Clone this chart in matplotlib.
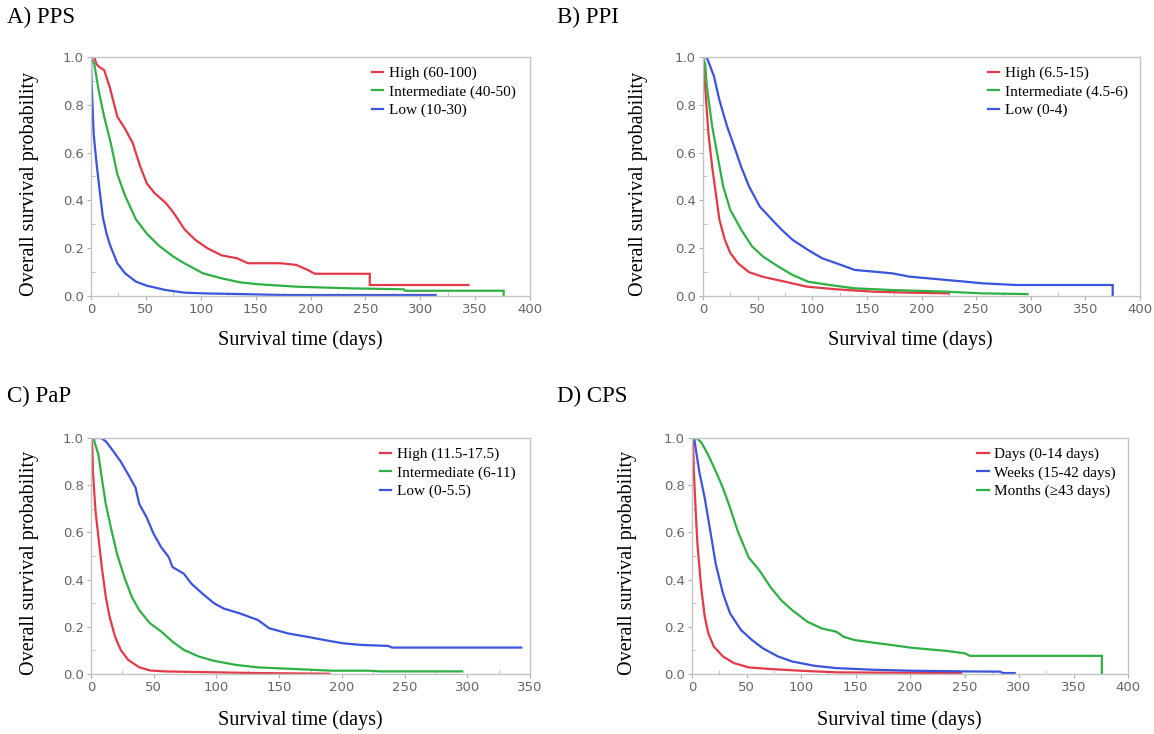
import matplotlib
matplotlib.use("Agg")
import matplotlib.pyplot as plt
from matplotlib.ticker import MultipleLocator

RED = "#e23a48"
GREEN = "#2fb045"
BLUE = "#3a55dc"
SERIF = "Liberation Serif"

# A) PPS
pps_high_t = [0, 3, 5, 7, 12, 17, 24, 31, 38, 45, 51, 58, 68, 75, 85, 95, 106, 119, 133, 143, 173, 187, 197, 204, 254, 254, 344]
pps_high_s = [1.0, 1.0, 0.97, 0.96, 0.945, 0.875, 0.75, 0.70, 0.64, 0.54, 0.47, 0.43, 0.39, 0.35, 0.28, 0.235, 0.20, 0.17, 0.158, 0.137, 0.137, 0.13, 0.11, 0.093, 0.093, 0.046, 0.046]
pps_mid_t = [0, 3, 7, 12, 18, 24, 31, 41, 51, 62, 75, 85, 102, 119, 136, 153, 187, 237, 285, 286, 376, 376]
pps_mid_s = [1.0, 0.97, 0.86, 0.75, 0.64, 0.51, 0.42, 0.32, 0.26, 0.21, 0.165, 0.137, 0.095, 0.074, 0.057, 0.049, 0.039, 0.032, 0.028, 0.022, 0.022, 0.0]
pps_low_t = [0, 0.5, 2.4, 4.7, 7.4, 10.8, 14.2, 17.6, 24, 31, 41, 51, 68, 85, 102, 136, 177, 314]
pps_low_s = [1.0, 0.9, 0.68, 0.57, 0.46, 0.33, 0.26, 0.21, 0.137, 0.095, 0.06, 0.043, 0.025, 0.014, 0.011, 0.008, 0.004, 0.004]

# B) PPI
ppi_high_t = [0, 1, 1.7, 5, 8.4, 11.7, 15, 20, 25, 32, 42, 55, 75, 95, 122, 156, 189, 225]
ppi_high_s = [1.0, 0.97, 0.89, 0.68, 0.54, 0.43, 0.32, 0.235, 0.18, 0.137, 0.10, 0.08, 0.06, 0.039, 0.028, 0.018, 0.014, 0.011]
ppi_mid_t = [0, 2, 3.4, 8.4, 13.4, 18.4, 25, 35, 45, 55, 69, 82, 96, 116, 139, 173, 223, 256, 297]
ppi_mid_s = [1.0, 0.97, 0.88, 0.71, 0.585, 0.46, 0.36, 0.277, 0.207, 0.165, 0.123, 0.088, 0.06, 0.046, 0.032, 0.025, 0.018, 0.011, 0.008]
ppi_low_t = [0, 3, 5, 10, 15, 22, 28.5, 35, 42, 52, 62, 72, 82, 96, 109, 122, 139, 156, 173, 189, 206, 223, 240, 256, 287, 375, 375]
ppi_low_s = [1.0, 1.0, 0.98, 0.92, 0.82, 0.71, 0.626, 0.54, 0.46, 0.374, 0.325, 0.277, 0.235, 0.193, 0.158, 0.137, 0.109, 0.102, 0.095, 0.081, 0.074, 0.067, 0.06, 0.053, 0.046, 0.046, 0.0]

# C) PaP
pap_high_t = [0, 1, 1.5, 3.6, 5.9, 8.9, 11.8, 14.8, 19.2, 23.7, 29.6, 38.5, 47, 59, 89, 133, 190]
pap_high_s = [1.0, 0.97, 0.86, 0.69, 0.58, 0.44, 0.327, 0.243, 0.158, 0.102, 0.06, 0.028, 0.015, 0.011, 0.008, 0.004, 0.001]
pap_mid_t = [0, 2, 3, 5.9, 8.9, 11.8, 16.3, 20.7, 26.6, 32.5, 38.5, 47, 56, 65, 74, 86, 98, 115, 133, 163, 192, 222, 231, 296]
pap_mid_s = [1.0, 1.0, 0.98, 0.93, 0.82, 0.72, 0.61, 0.51, 0.41, 0.327, 0.27, 0.215, 0.18, 0.137, 0.102, 0.074, 0.056, 0.039, 0.028, 0.021, 0.014, 0.014, 0.011, 0.011]
pap_low_t = [0, 3, 8, 11.8, 17.8, 23.7, 29.6, 35.5, 38.5, 44.4, 50, 56, 62, 65, 74, 80, 89, 98, 106, 118, 133, 142, 157, 172, 186, 201, 216, 237, 240, 343]
pap_low_s = [1.0, 1.0, 1.0, 0.986, 0.944, 0.90, 0.846, 0.79, 0.72, 0.663, 0.593, 0.537, 0.495, 0.453, 0.425, 0.383, 0.34, 0.30, 0.277, 0.258, 0.229, 0.194, 0.172, 0.158, 0.144, 0.13, 0.123, 0.119, 0.112, 0.112]

# D) CPS
cps_days_t = [0, 1, 1.7, 3.4, 5, 8.4, 11.7, 15, 20, 28.5, 38.6, 52, 72, 99, 133, 166, 247]
cps_days_s = [1.0, 0.97, 0.857, 0.69, 0.55, 0.368, 0.242, 0.172, 0.116, 0.074, 0.046, 0.028, 0.021, 0.014, 0.007, 0.006, 0.004]
cps_weeks_t = [0, 2, 3.4, 6.7, 11.7, 16.8, 21.8, 28.5, 35, 45, 55, 65, 79, 92, 112, 132, 166, 200, 250, 283, 285, 296]
cps_weeks_s = [1.0, 1.0, 0.955, 0.857, 0.745, 0.605, 0.466, 0.34, 0.256, 0.186, 0.144, 0.109, 0.074, 0.053, 0.035, 0.025, 0.018, 0.014, 0.011, 0.01, 0.004, 0.004]
cps_months_t = [0, 4, 8.4, 15, 22, 28.5, 35, 42, 52, 62, 72, 82, 92, 106, 119, 132.5, 139, 149, 166, 183, 200, 216, 233, 250, 255, 376, 376]
cps_months_s = [1.0, 1.0, 0.983, 0.927, 0.857, 0.787, 0.703, 0.605, 0.494, 0.438, 0.368, 0.312, 0.27, 0.221, 0.193, 0.179, 0.158, 0.144, 0.133, 0.123, 0.112, 0.105, 0.098, 0.088, 0.077, 0.077, 0.0]


def style_axis(ax, xmax):
    ax.set_xlim(0, xmax)
    ax.set_ylim(0, 1.0)
    ax.xaxis.set_major_locator(MultipleLocator(50))
    ax.xaxis.set_minor_locator(MultipleLocator(25))
    ax.yaxis.set_major_locator(MultipleLocator(0.2))
    ax.yaxis.set_minor_locator(MultipleLocator(0.1))
    ax.yaxis.set_major_formatter(plt.FuncFormatter(lambda v, p: "%.1f" % v))
    for sp in ax.spines.values():
        sp.set_color("#c4c4c4")
        sp.set_linewidth(1.0)
    ax.tick_params(which="major", direction="out", length=3, color="#b0b0b0",
                   labelsize=9.5, labelcolor="#666666", pad=2)
    ax.tick_params(which="minor", direction="in", length=3, color="#b8b8b8")
    for lab in ax.get_xticklabels() + ax.get_yticklabels():
        lab.set_family("DejaVu Sans")
    ax.set_xlabel("Survival time (days)", family=SERIF, fontsize=14.5)
    ax.set_ylabel("Overall survival probability", family=SERIF, fontsize=14.5)


def draw_panel(ax, curves, xmax, title, title_xy, leg_x, fig):
    for t, s, c, lab in curves:
        ax.plot(t, s, color=c, lw=1.6, label=lab, solid_joinstyle="miter")
    style_axis(ax, xmax)
    ax.legend(loc="upper left", bbox_to_anchor=(leg_x, 0.96), frameon=False,
              prop={"family": SERIF, "size": 11}, handlelength=0.75,
              handletextpad=0.35, labelspacing=0.3, borderpad=0, borderaxespad=0)
    fig.text(title_xy[0] / 1154, 1 - title_xy[1] / 734, title, family=SERIF,
             fontsize=16.5, va="center", ha="left")


fig = plt.figure(figsize=(11.54, 7.34), dpi=100)

# axes placed in pixel boxes: left, right, top, bottom
boxes = [(91, 530, 57, 296), (703, 1140, 57, 296), (91, 530, 438, 674), (692, 1128, 438, 674)]
axes = []
for l, r, t, b in boxes:
    axes.append(fig.add_axes([l / 1154, 1 - b / 734, (r - l) / 1154, (b - t) / 734]))

draw_panel(axes[0], [(pps_high_t, pps_high_s, RED, "High (60-100)"),
                     (pps_mid_t, pps_mid_s, GREEN, "Intermediate (40-50)"),
                     (pps_low_t, pps_low_s, BLUE, "Low (10-30)")],
           400, "A) PPS", (7, 17), 0.64, fig)
draw_panel(axes[1], [(ppi_high_t, ppi_high_s, RED, "High (6.5-15)"),
                     (ppi_mid_t, ppi_mid_s, GREEN, "Intermediate (4.5-6)"),
                     (ppi_low_t, ppi_low_s, BLUE, "Low (0-4)")],
           400, "B) PPI", (557, 17), 0.652, fig)
draw_panel(axes[2], [(pap_high_t, pap_high_s, RED, "High (11.5-17.5)"),
                     (pap_mid_t, pap_mid_s, GREEN, "Intermediate (6-11)"),
                     (pap_low_t, pap_low_s, BLUE, "Low (0-5.5)")],
           350, "C) PaP", (7, 396), 0.658, fig)
draw_panel(axes[3], [(cps_days_t, cps_days_s, RED, "Days (0-14 days)"),
                     (cps_weeks_t, cps_weeks_s, BLUE, "Weeks (15-42 days)"),
                     (cps_months_t, cps_months_s, GREEN, "Months (\u226543 days)")],
           400, "D) CPS", (557, 396), 0.654, fig)

# label positions in axes coordinates
axes[0].xaxis.set_label_coords(0.476, -0.142)
axes[0].yaxis.set_label_coords(-0.118, 0.47)
axes[1].xaxis.set_label_coords(0.474, -0.142)
axes[1].yaxis.set_label_coords(-0.126, 0.47)
axes[2].xaxis.set_label_coords(0.476, -0.152)
axes[2].yaxis.set_label_coords(-0.118, 0.47)
axes[3].xaxis.set_label_coords(0.475, -0.152)
axes[3].yaxis.set_label_coords(-0.126, 0.47)

plt.savefig("out.png", dpi=100)
